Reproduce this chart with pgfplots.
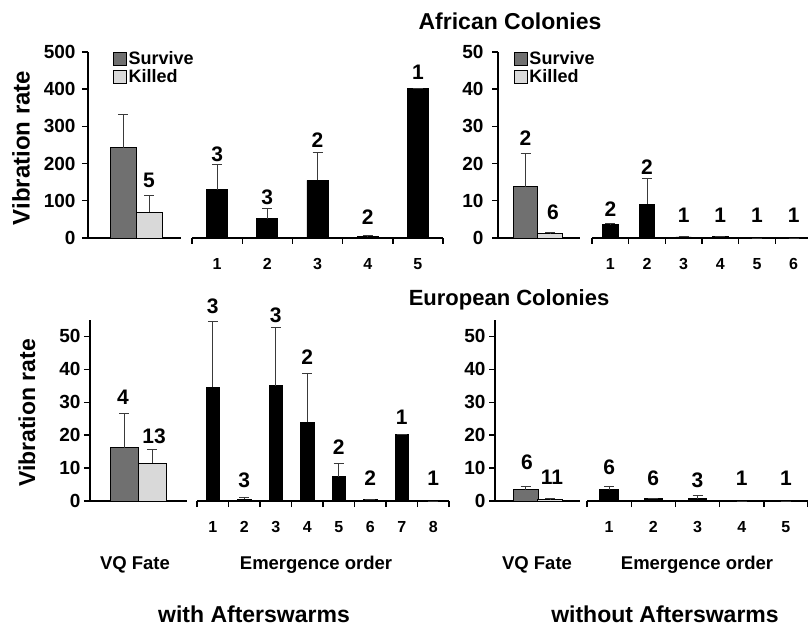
\documentclass[border=0pt]{standalone}
\usepackage{pgfplots}
\pgfplotsset{compat=1.18}
\usepackage{fontspec}
\setmainfont{Liberation Sans}
\definecolor{survive}{HTML}{707070}
\definecolor{killed}{HTML}{D9D9D9}
\definecolor{errc}{HTML}{3A3A3A}
\newcommand{\fs}[1]{\fontsize{#1}{#1}\selectfont\bfseries}

\pgfplotsset{
  panel/.style={scale only axis, clip=false, ymin=0, anchor=south west,
    /pgf/number format/assume math mode=true,
    axis line style={-, line width=1.6pt},
    tick style={line width=1.4pt, black},
    tick align=outside,
    yticklabel style={font=\fs{19}},
    xticklabel style={font=\fs{16}, yshift=-17pt},
  },
  fate/.style={panel, axis x line*=bottom, axis y line*=left, xmin=0,
    xtick=\empty, major tick length=6pt},
  order/.style={panel, axis x line*=bottom, axis y line=none, ytick=\empty,
    major tick length=0pt, minor tick length=6pt},
  bar/.style={ybar, bar shift=0pt, draw=black, line width=0.7pt,
    legend image code/.code={\draw[##1, line width=1.1pt] (0pt,-6.5pt) rectangle (13pt,6.5pt);},
    /pgfplots/error bars/y dir=plus, /pgfplots/error bars/y explicit,
    /pgfplots/error bars/error bar style={line width=0.8pt, errc},
    /pgfplots/error bars/error mark options={rotate=90, mark size=5pt, line width=0.9pt, errc}},
  lab/.style={draw=none, mark=none, forget plot, nodes near coords,
    point meta=explicit symbolic,
    every node near coord/.append style={anchor=center, inner sep=0pt, font=\fs{21}}},
  leg/.style={legend style={at={(axis description cs:#1,1.01)}, anchor=north west,
    draw=none, fill=none, inner sep=0pt, row sep=1pt,
    font=\fs{18}, legend cell align=left,
    nodes={inner sep=1.2pt}}},
}

\begin{document}
\begin{tikzpicture}[x=1pt,y=1pt]
\useasboundingbox (0,0) rectangle (808,627);

% ---------------- African, with afterswarms: VQ fate
\begin{axis}[fate, at={(88pt,389pt)}, width=93pt, height=186pt,
  xmax=93, ymax=500, ytick={0,100,...,500}, leg=0.27,
  yticklabel style={xshift=-3pt}]
\addplot[bar, bar width=26, fill=survive] coordinates {(35,243) +- (0,90)};
\addlegendentry{Survive}
\addplot[bar, bar width=26, fill=killed] coordinates {(61,70) +- (0,45)};
\addlegendentry{Killed}
\addplot[lab] coordinates {(61,156)[5]};
\end{axis}

% ---------------- African, with afterswarms: emergence order
\begin{axis}[order, at={(192pt,389pt)}, width=251pt, height=186pt,
  xmin=0.5, xmax=5.5, ymax=500, xtick={1,2,3,4,5},
  minor xtick={0.5,1.5,2.5,3.5,4.5,5.5}]
\addplot[bar, bar width=0.42, fill=black] table[x=x, y=y, y error=e] {
x y e
1 130 67
2 52 27
3 155 75
4 4 2
5 403 0
};
\addplot[lab] coordinates {(1,226)[3] (2,110)[3] (3,263)[2] (4,56)[2] (5,446)[1]};
\end{axis}

% ---------------- African, without afterswarms: VQ fate
\begin{axis}[fate, at={(498pt,389pt)}, width=82pt, height=186pt,
  xmax=82, ymax=50, ytick={0,10,...,50}, leg=0.195,
  yticklabel style={xshift=-5pt}]
\addplot[bar, bar width=24.5, fill=survive] coordinates {(27.5,13.8) +- (0,8.8)};
\addlegendentry{Survive}
\addplot[bar, bar width=24.5, fill=killed] coordinates {(52,1.2) +- (0,0.3)};
\addlegendentry{Killed}
\addplot[lab] coordinates {(27.5,26.9)[2] (55,7.0)[6]};
\end{axis}

% ---------------- African, without afterswarms: emergence order
\begin{axis}[order, at={(592pt,389pt)}, width=220pt, height=186pt,
  xmin=0.5, xmax=6.5, ymax=50, xtick={1,2,3,4,5,6},
  minor xtick={0.5,1.5,2.5,3.5,4.5,5.5,6.5}]
\addplot[bar, bar width=0.42, fill=black] table[x=x, y=y, y error=e] {
x y e
1 3.6 0.3
2 9.1 6.8
3 0.3 0
4 0.5 0
5 0 0
6 0 0
};
\addplot[lab] coordinates {(1,7.8)[2] (2,19.1)[2] (3,6.2)[1] (4,6.2)[1] (5,6.2)[1] (6,6.2)[1]};
\end{axis}

% ---------------- European, with afterswarms: VQ fate
\begin{axis}[fate, at={(90pt,126pt)}, width=97pt, height=181pt,
  xmax=97, ymax=55, ytick={0,10,...,50}]
\addplot[bar, bar width=28, fill=survive] coordinates {(34,16.2) +- (0,10.5)};
\addplot[bar, bar width=28, fill=killed] coordinates {(62,11.5) +- (0,4.3)};
\addplot[lab] coordinates {(33,31.4)[4] (64,19.8)[13]};
\end{axis}

% ---------------- European, with afterswarms: emergence order
\begin{axis}[order, at={(197pt,126pt)}, width=252pt, height=181pt,
  xmin=0.5, xmax=8.5, ymax=55, xtick={1,...,8},
  minor xtick={0.5,1.5,2.5,3.5,4.5,5.5,6.5,7.5,8.5}]
\addplot[bar, bar width=0.42, fill=black] table[x=x, y=y, y error=e] {
x y e
1 34.6 20.0
2 0.5 0.5
3 35.0 17.8
4 23.9 15.0
5 7.4 4.0
6 0.5 0
7 20.2 0
8 0 0
};
\addplot[lab] coordinates {(1,59.2)[3] (2,6.4)[3] (3,56.4)[3] (4,43.6)[2] (5,16.5)[2] (6,7.0)[2] (7,25.3)[1] (8,7.0)[1]};
\end{axis}

% ---------------- European, without afterswarms: VQ fate
\begin{axis}[fate, at={(495pt,126pt)}, width=85pt, height=181pt,
  xmax=85, ymax=55, ytick={0,10,...,50}]
\addplot[bar, bar width=25, fill=survive] coordinates {(30.5,3.4) +- (0,1.0)};
\addplot[bar, bar width=25, fill=killed] coordinates {(55,0.4) +- (0,0.3)};
\addplot[lab] coordinates {(32,11.9)[6] (57,7.3)[11]};
\end{axis}

% ---------------- European, without afterswarms: emergence order
\begin{axis}[order, at={(587pt,126pt)}, width=221pt, height=181pt,
  xmin=0.5, xmax=5.5, ymax=55, xtick={1,...,5},
  minor xtick={0.5,1.5,2.5,3.5,4.5,5.5}]
\addplot[bar, bar width=0.42, fill=black] table[x=x, y=y, y error=e] {
x y e
1 3.4 1.0
2 0.7 0
3 0.7 0.9
4 0 0
5 0 0
};
\addplot[lab] coordinates {(1,10.1)[6] (2,7.0)[6] (3,6.4)[3] (4,7.0)[1] (5,7.0)[1]};
\end{axis}

% ---------------- titles and labels
\node[anchor=base, font=\fs{23}] at (510,597) {African Colonies};
\node[anchor=base, font=\fs{22}] at (509,321) {European Colonies};
\node[rotate=90, font=\fs{24}] at (21,479) {Vibration rate};
\node[rotate=90, font=\fs{23}] at (27,214) {Vibration rate};
\node[anchor=base, font=\fs{18.5}] at (135,58) {VQ Fate};
\node[anchor=base, font=\fs{18.5}] at (316,58) {Emergence order};
\node[anchor=base, font=\fs{18.5}] at (537,58) {VQ Fate};
\node[anchor=base, font=\fs{18.5}] at (697,58) {Emergence order};
\node[anchor=base, font=\fs{23}] at (254,5) {with Afterswarms};
\node[anchor=base, font=\fs{23}] at (665,5) {without Afterswarms};
\end{tikzpicture}
\end{document}
